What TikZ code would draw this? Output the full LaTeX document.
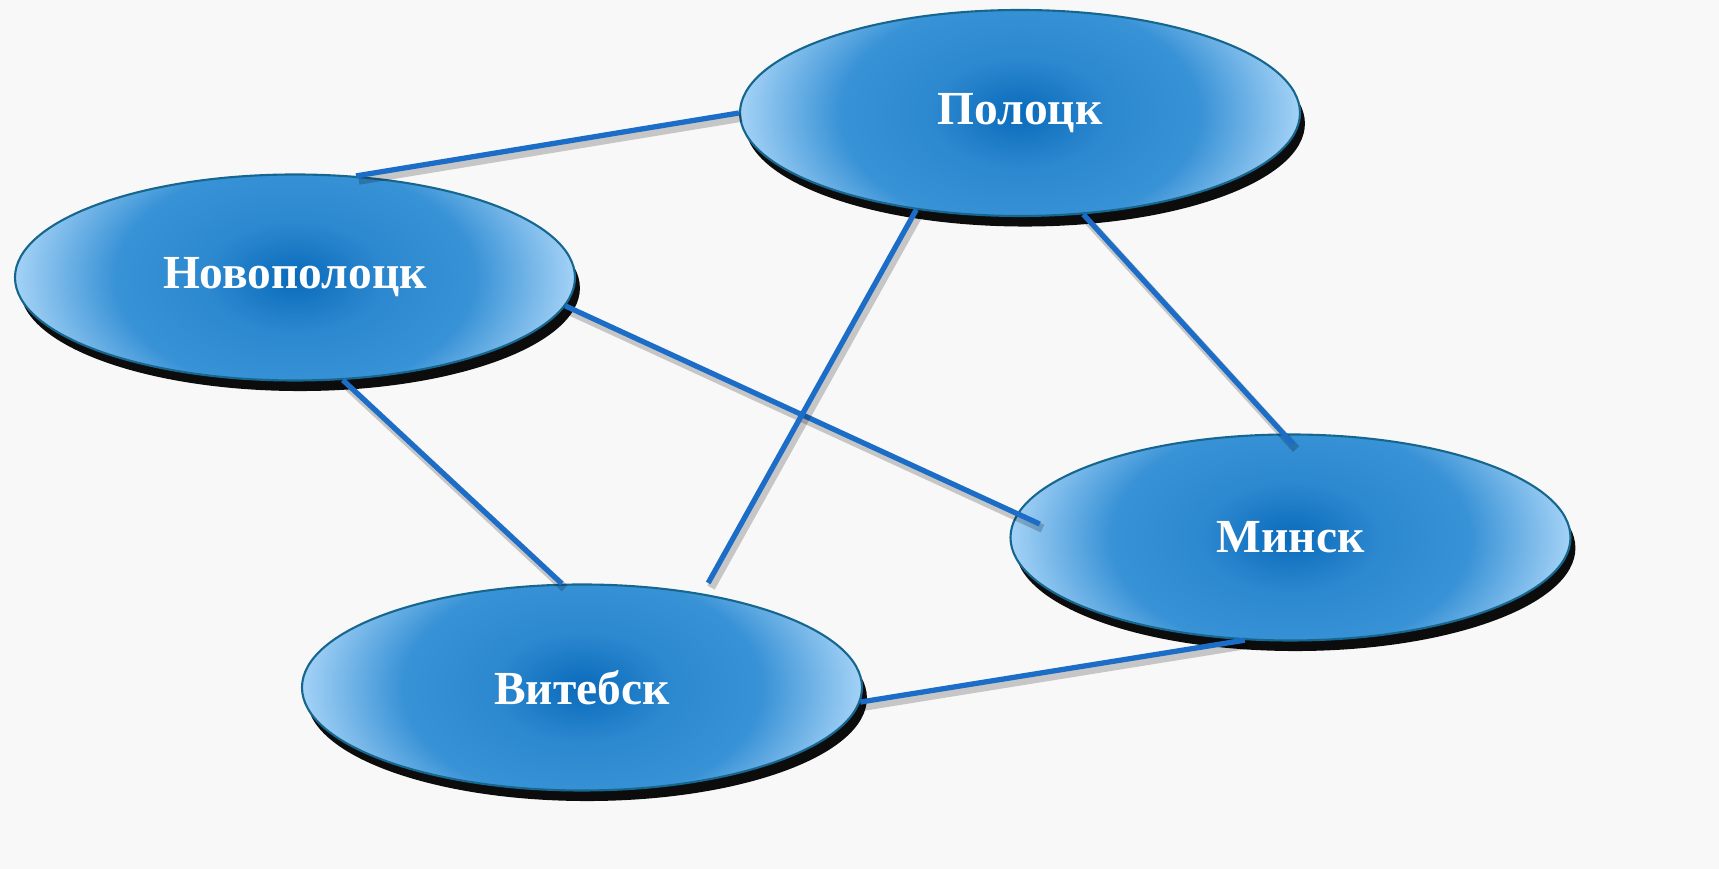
\documentclass[tikz,border=0pt]{standalone}
\usepackage{fontspec}
\setmainfont{Liberation Serif}
\usetikzlibrary{calc}
\usetikzlibrary{shapes.geometric}
\usetikzlibrary{shadows}
\definecolor{CityDark}{HTML}{0A6BBB}
\definecolor{CityMid}{HTML}{3892D6}
\definecolor{CityLight}{HTML}{A4D2F6}
\definecolor{CityRim}{HTML}{16678F}
\definecolor{LinkBlue}{HTML}{1C6DC8}
\definecolor{PageGray}{HTML}{F8F8F8}
\pgfdeclareradialshading{cityshade}{\pgfpoint{0bp}{0bp}}{%
  color(0bp)=(CityDark); color(8bp)=(CityMid!75!CityDark);
  color(16bp)=(CityMid); color(25bp)=(CityLight); color(50bp)=(CityLight)}
\tikzset{
  city/.style={ellipse, draw=CityRim, line width=0.6pt,
    minimum width=5.6cm, minimum height=2.06cm, inner sep=0pt,
    text=white, font=\bfseries\fontsize{13.5}{16}\selectfont,
    drop shadow={shadow xshift=1.4pt, shadow yshift=-3pt,
      fill=black, opacity=0.95},
    path picture={%
      \shade[shading=cityshade]
        ($(path picture bounding box.center)+(-2.8,-1.75)$) rectangle
        ($(path picture bounding box.center)+(2.8,1.75)$);}},
  link/.style={draw=LinkBlue, line width=1.5pt,
    preaction={draw=black, opacity=0.2, line width=2.4pt,
      transform canvas={shift={(0.8pt,-1.3pt)}}}}
}

\begin{document}
\begin{tikzpicture}
  \useasboundingbox (0,0) rectangle (17.19,8.69);
  \fill[PageGray] (0,0) rectangle (17.19,8.69);

  % cities
  \node[city] (Polotsk)     at (10.20,7.56)  {Полоцк};
  \node[city] (Novopolotsk) at (2.95,5.915)  {Новополоцк};
  \node[city] (Minsk)       at (12.905,3.315) {Минск};
  \node[city] (Vitebsk)     at (5.82,1.815)  {Витебск};

  % roads
  \draw[link] (Novopolotsk.59) -- (Polotsk.180);
  \draw[link, shorten >=-0.25cm] (Novopolotsk.-6) -- (Minsk.175);
  \draw[link] (Novopolotsk.-65) -- (Vitebsk.101);
  \draw[link, shorten >=0.12cm] (Polotsk.-137) -- (Vitebsk.38);
  \draw[link, shorten >=-0.15cm] (Polotsk.-58) -- (Minsk.94);
  \draw[link] (Vitebsk.-3) -- (Minsk.-114);
\end{tikzpicture}
\end{document}
